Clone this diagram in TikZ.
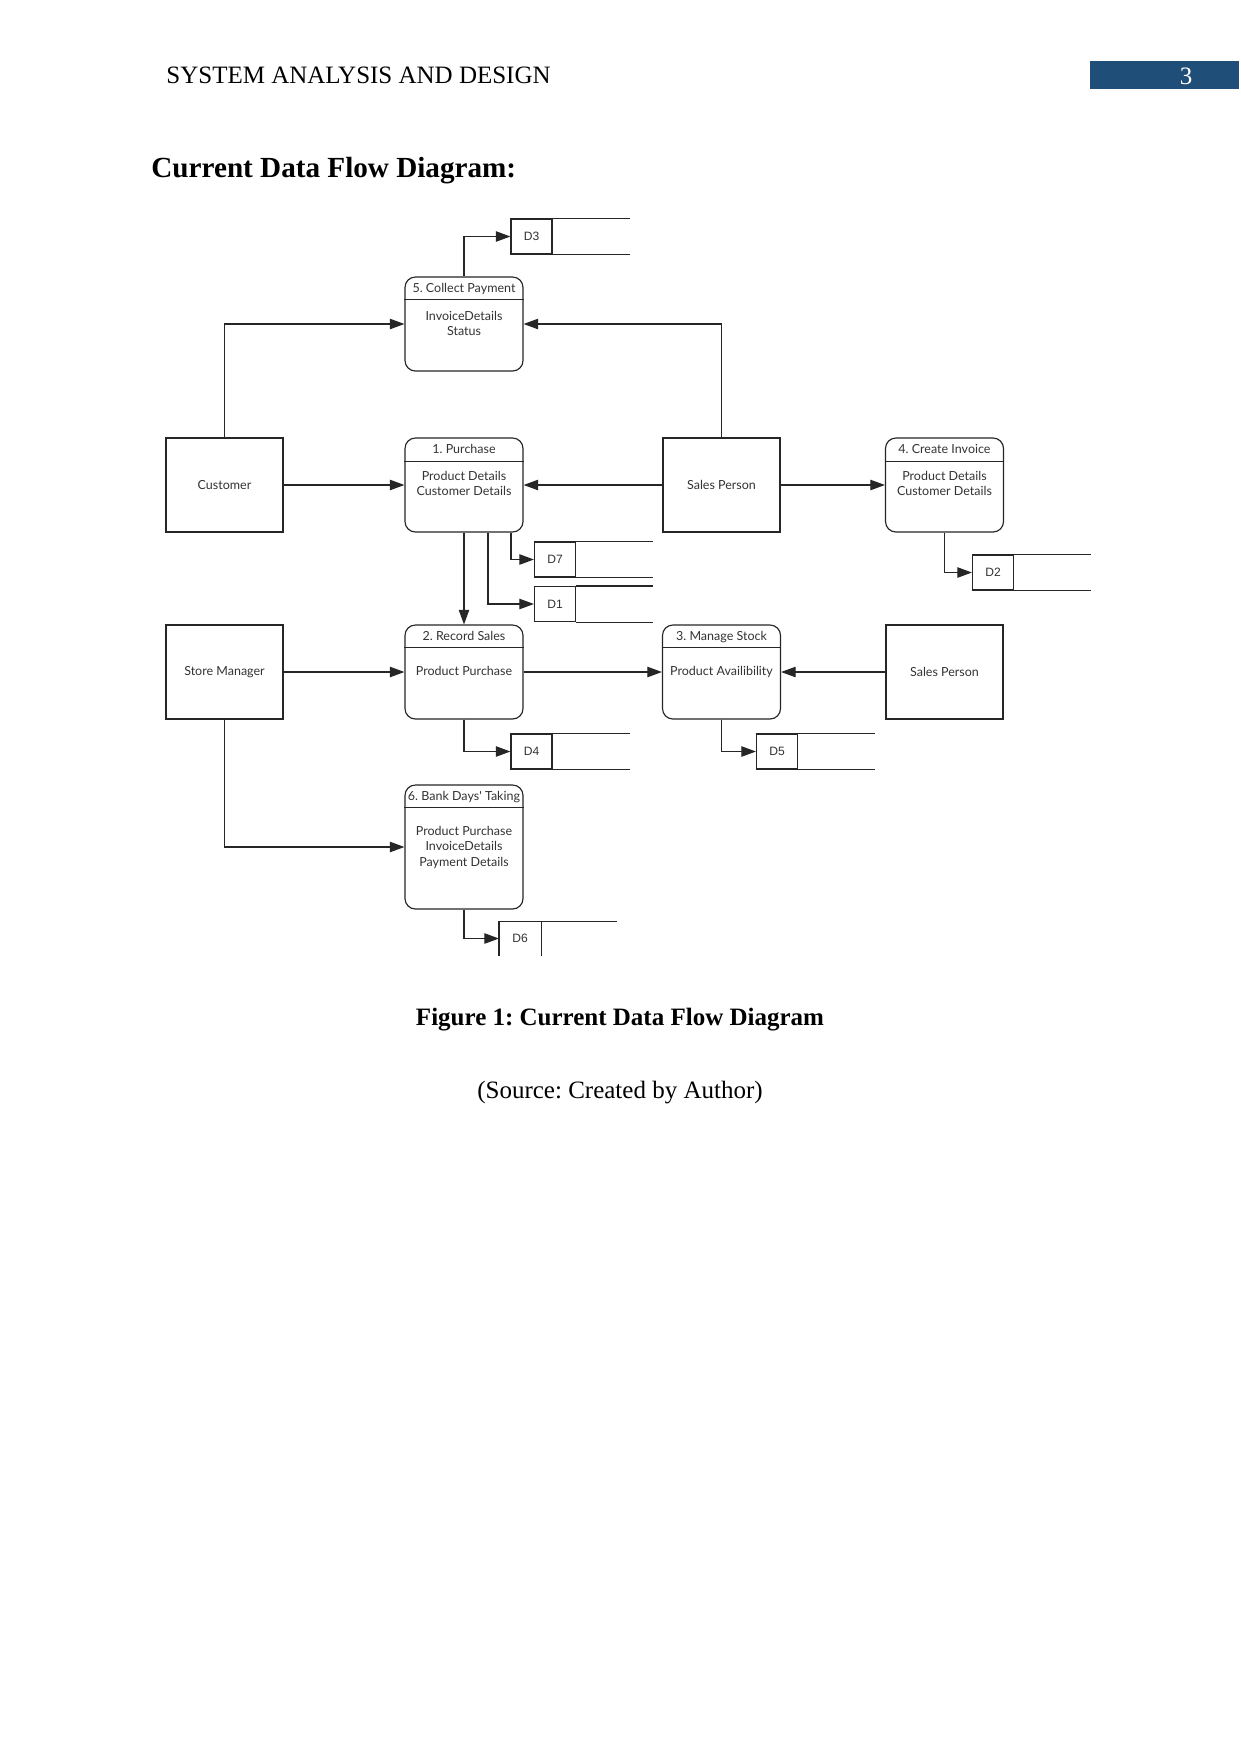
\documentclass[tikz,border=0pt]{standalone}
\usepackage{fontspec}
\setmainfont{Liberation Serif}
\newfontfamily\latof{Lato}
\newfontfamily\arialf{Liberation Sans}
\usetikzlibrary{arrows.meta,calc}
\definecolor{hdrblue}{HTML}{1F4E79}
\definecolor{dtext}{HTML}{333333}
\frenchspacing
\begin{document}
\begin{tikzpicture}[x=0.48pt,y=-0.48pt,
 line/.style={draw=black!85, line width=0.55pt},
 arr/.style={line, -{Triangle[length=7pt,width=5pt]}},
 procbox/.style={line, rounded corners=5pt, minimum width=56.64pt, minimum height=45.12pt, inner sep=0pt},
 entity/.style={line, minimum width=56.16pt, minimum height=45.12pt, inner sep=0pt, font=\latof\fontsize{6}{7.4}\selectfont, text=dtext},
 ptext/.style={anchor=base, inner sep=0pt, align=center, font=\latof\fontsize{6}{7.4}\selectfont, text=dtext},
 dsbox/.style={line, minimum width=19.68pt, minimum height=16.8pt, inner sep=0pt, font=\arialf\fontsize{5.8}{7}\selectfont, text=dtext},
 serif/.style={inner sep=0pt, font=\fontsize{12}{14}\selectfont},
]
\useasboundingbox[fill=white] (0,0) rectangle (1241,1754);

% page header
\node[serif, anchor=base west] (hdr) at (166,83) {SYSTEM ANALYSIS AND DESIGN};
\node[fill=hdrblue, minimum width=71.52pt, minimum height=13.44pt, inner sep=0pt] (pgbox) at (1164.5,75) {};
\node[serif, anchor=base, text=white] (pgnum) at (1186,84) {3};
\node[inner sep=0pt, anchor=base west, font=\fontsize{14}{16}\selectfont\bfseries] (title) at (151,177) {Current Data Flow Diagram:};

% processes (multi-line texts: base = baseline of last line)
\node[procbox] (p5) at (464,324) {};
\draw[line] ($(p5.north west)+(0,23)$) -- ($(p5.north east)+(0,23)$);
\node[ptext] (p5h) at (464,292) {5. Collect Payment};
\node[ptext] (p5b) at (464,335.5) {InvoiceDetails\\Status};

\node[procbox] (p1) at (464,485) {};
\draw[line] ($(p1.north west)+(0,24)$) -- ($(p1.north east)+(0,24)$);
\node[ptext] (p1h) at (464,453) {1. Purchase};
\node[ptext] (p1b) at (464,495.5) {Product Details\\Customer Details};

\node[procbox] (p4) at (944.5,485) {};
\draw[line] ($(p4.north west)+(0,24)$) -- ($(p4.north east)+(0,24)$);
\node[ptext] (p4h) at (944.5,453) {4. Create Invoice};
\node[ptext] (p4b) at (944.5,495.5) {Product Details\\Customer Details};

\node[procbox] (p2) at (464,672) {};
\draw[line] ($(p2.north west)+(0,23)$) -- ($(p2.north east)+(0,23)$);
\node[ptext] (p2h) at (464,640) {2. Record Sales};
\node[ptext] (p2b) at (464,675) {Product Purchase};

\node[procbox] (p3) at (721.5,672) {};
\draw[line] ($(p3.north west)+(0,23)$) -- ($(p3.north east)+(0,23)$);
\node[ptext] (p3h) at (721.5,640) {3. Manage Stock};
\node[ptext] (p3b) at (721.5,675) {Product Availibility};

\node[procbox, minimum height=59.52pt] (p6) at (464,847) {};
\draw[line] ($(p6.north west)+(0,23)$) -- ($(p6.north east)+(0,23)$);
\node[ptext] (p6h) at (464,800) {6. Bank Days' Taking};
\node[ptext] (p6b) at (464,866) {Product Purchase\\InvoiceDetails\\Payment Details};

% external entities
\node[entity] (cust) at (224.5,485) {Customer};
\node[entity] (sp1) at (721.5,485) {Sales Person};
\node[entity] (sm) at (224.5,672) {Store Manager};
\node[entity] (sp2) at (944.5,672) {Sales Person};

% data stores
\node[dsbox] (d3) at (531.5,236.5) {D3};
\draw[line] (d3.north east) -- ++(77,0) (d3.south east) -- ++(77,0);
\node[dsbox] (d7) at (555,559.5) {D7};
\draw[line] (d7.north east) -- ++(77,0) (d7.south east) -- ++(77,0);
\node[dsbox] (d1) at (555,604) {D1};
\draw[line] (d1.north east) -- ++(77,0) (d1.south east) -- ++(77,0);
\node[dsbox] (d2) at (993,572.5) {D2};
\draw[line] (d2.north east) -- ++(77,0) (d2.south east) -- ++(77,0);
\node[dsbox] (d4) at (531.5,751.5) {D4};
\draw[line] (d4.north east) -- ++(77,0) (d4.south east) -- ++(77,0);
\node[dsbox] (d5) at (777,751.5) {D5};
\draw[line] (d5.north east) -- ++(77,0) (d5.south east) -- ++(77,0);
\node[dsbox, draw=none, minimum height=15.84pt] (d6) at (520,938.5) {D6};
\draw[line] (d6.south west) -- (d6.north west) -- ++(118,0);
\draw[line] (d6.north east) -- (d6.south east);

% flows
\draw[arr] (p5.north) |- (d3.west);
\draw[arr] (cust.north) |- (p5.west);
\draw[arr] (sp1.north) |- (p5.east);
\draw[arr] (cust.east) -- (p1.west);
\draw[arr] (sp1.west) -- (p1.east);
\draw[arr] (sp1.east) -- (p4.west);
\draw[arr] (p1.south) -- (p2.north);
\draw[arr] ($(p1.south)+(24,0)$) |- (d1.west);
\draw[arr] ($(p1.south)+(47,0)$) |- (d7.west);
\draw[arr] (p4.south) |- (d2.west);
\draw[arr] (sm.east) -- (p2.west);
\draw[arr] (p2.east) -- (p3.west);
\draw[arr] (sp2.west) -- (p3.east);
\draw[arr] (p2.south) |- (d4.west);
\draw[arr] (p3.south) |- (d5.west);
\draw[arr] (sm.south) |- (p6.west);
\draw[arr] (p6.south) |- (d6.west);

% captions
\node[serif, anchor=base, font=\fontsize{12}{14}\selectfont\bfseries] (cap) at (620,1025) {Figure 1: Current Data Flow Diagram};
\node[serif, anchor=base] (src) at (620,1098) {(Source: Created by Author)};
\end{tikzpicture}
\end{document}
